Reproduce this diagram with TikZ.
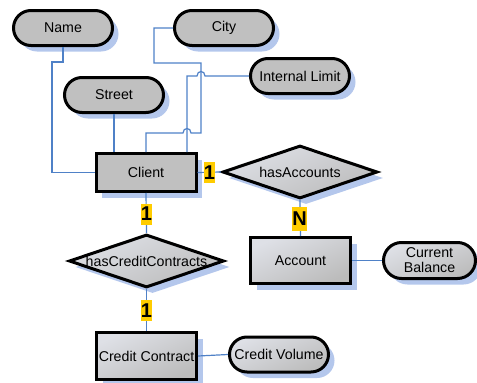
\documentclass[tikz,border=0pt]{standalone}
\usepackage{fontspec}
\setmainfont{Liberation Sans}
\usetikzlibrary{shapes.geometric,shadows}
\definecolor{linkblue}{RGB}{79,129,199}
\definecolor{shd}{RGB}{180,199,236}
\definecolor{nodegray}{RGB}{192,192,192}
\definecolor{gradlight}{RGB}{222,224,230}
\definecolor{graddark}{RGB}{188,188,188}
\definecolor{cardyellow}{RGB}{255,204,0}
\begin{document}
\begin{tikzpicture}[x=1pt,y=-1pt,
  base/.style={draw=black, line width=3pt, fill=nodegray, text=black,
    font=\fontsize{14.2}{16}\selectfont, inner sep=0pt, align=center,
    drop shadow={shadow xshift=6pt, shadow yshift=-6pt, fill=shd, opacity=1}},
  grad/.style={top color=gradlight, bottom color=graddark, shading angle=25},
  attr/.style={base, rectangle, rounded corners=17.5pt, minimum width=99pt, minimum height=35pt},
  entity/.style={base, rectangle, minimum width=100pt},
  rel/.style={base, grad, diamond, minimum width=155pt, minimum height=53pt},
  link/.style={draw=linkblue, line width=1.2pt},
  card/.style={fill=cardyellow, inner sep=0pt, minimum width=11pt, minimum height=21pt,
    font=\fontsize{20}{20}\selectfont\bfseries}
]
\useasboundingbox (0,0) rectangle (477,383);

% attributes
\node[attr] (name)   at (63,28)  {Name};
\node[attr] (city)   at (224,28) {City};
\node[attr] (limit)  at (300,76) {Internal Limit};
\node[attr] (street) at (114,95) {Street};
\node[attr, grad, minimum width=92pt, minimum height=36pt, rounded corners=18pt] (balance) at (429.5,260.5) {Current\\[-1pt]Balance};
\node[attr, grad] (volume) at (279,354.5) {Credit Volume};

% entities
\node[entity, minimum height=38pt] (client) at (146,172.5) {Client};
\node[entity, grad, minimum height=46pt] (account) at (300.5,260.5) {Account};
\node[entity, grad, minimum height=47pt] (contract) at (146.5,356) {Credit Contract};

% relationships
\node[rel, label={[font=\fontsize{14.2}{16}\selectfont, name=hasAccLbl]center:hasAccounts}] (hasacc) at (300,172) {};
\node[rel, label={[font=\fontsize{14.2}{16}\selectfont, name=hasCCLbl]center:hasCreditContracts}] (hascc) at (146.5,261) {};

% attribute connectors
\coordinate (ilc) at (187,76);
\draw[link] (name.south) -- (63,62) -- (52,62) |- (client.west);
\draw[link] (street.south) -- (client.north -| street.south);
\draw[link] (city.west) -- (154,28) -- (154,63) -- (201,63) -- (201,133) -- (191,133)
  .. controls (191,127) and (183,127) .. (183,133) -- (146,133) -- (client.north);
\draw[link] (limit.west) -- (205,76) .. controls (205,70) and (197,70) .. (197,76)
  -- (ilc) -- (client.north -| ilc);
\draw[link] (account.east) -- (balance.west);
\draw[link] (contract.east) -- (volume.west);

% relationship connectors
\draw[link] (client.east) -- (hasacc.west);
\draw[link] (hasacc.south) -- (account.north);
\draw[link] (client.south) -- (hascc.north);
\draw[link] (hascc.south) -- (contract.north);

% cardinalities
\node[card] (c1) at (209.5,172.5) {1};
\node[card, minimum width=15pt, minimum height=24pt] (cn) at (299.5,219) {N};
\node[card] (c2) at (146.5,214) {1};
\node[card] (c3) at (146.5,310.5) {1};
\end{tikzpicture}
\end{document}
